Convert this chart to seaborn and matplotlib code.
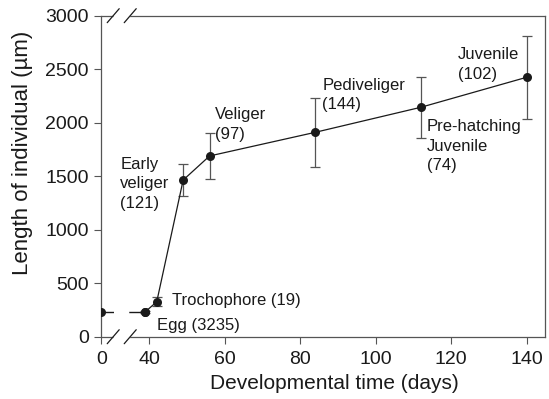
import numpy as np
import pandas as pd
import seaborn as sns
import matplotlib.pyplot as plt

# Body length per developmental stage (mean +/- SD)
days = [0, 39, 42, 49, 56, 84, 112, 140]
length_um = [234, 234, 327, 1464, 1689, 1910, 2144, 2424]
sd_um = [0, 10, 40, 153, 214, 321, 285, 386]
stage_labels = ["", "Egg (3235)", "Trochophore (19)", "Early\nveliger\n(121)",
                "Veliger\n(97)", "Pediveliger\n(144)",
                "Pre-hatching\nJuvenile\n(74)", "Juvenile\n(102)"]
xtick_days = [0, 40, 60, 80, 100, 120, 140]
ytick_vals = [0, 500, 1000, 1500, 2000, 2500, 3000]

# broken x axis: day 0 is drawn at this position
ZERO_POS = 27.3


def xpos(d):
    d = np.asarray(d, dtype=float)
    return np.where(d == 0, ZERO_POS, d)


df = pd.DataFrame({"day": days, "x": xpos(days), "length": length_um, "sd": sd_um})

sns.set_style("ticks")
plt.rcParams["font.family"] = ["Liberation Sans", "DejaVu Sans"]

fig = plt.figure(figsize=(5.49, 3.99), dpi=100)
ax = fig.add_axes([0.1845, 0.1561, 0.8082, 0.8046])

ink = "#1a1a1a"
grey = "#555555"

# dashed part across the break (day 0 -> egg)
sns.lineplot(data=df.iloc[:2], x="x", y="length", ax=ax, color=ink, lw=1,
             marker="o", markersize=6.5, markeredgewidth=0, sort=False)
ax.lines[-1].set_dashes((9, 11))
ax.lines[-1].set_zorder(3)

# solid part
sns.lineplot(data=df.iloc[1:], x="x", y="length", ax=ax, color=ink, lw=0.9,
             marker="o", markersize=6.5, markeredgewidth=0, sort=False, zorder=3)

err = df.iloc[1:]
ax.errorbar(err["x"], err["length"], yerr=err["sd"], fmt="none",
            ecolor=grey, elinewidth=0.9, capsize=3.6, capthick=0.9, zorder=2)

# stage labels: offsets in pixels to the last line's baseline (dx, dy), alignment
label_style = [
    None,
    (12, -18.5, "left"),
    (15, -3.5, "left"),
    (-63, -28, "left"),
    (5, 17, "left"),
    (7, 23, "left"),
    (6, -63, "left"),
    (-7, -1.5, "right"),
]
for i, lab in enumerate(stage_labels):
    if not lab:
        continue
    dx, dy, ha = label_style[i]
    ax.annotate(lab, (df["x"][i], df["length"][i]), xytext=(dx, dy),
                textcoords="offset pixels", ha=ha, va="baseline",
                multialignment="left", fontsize=12, color=ink,
                linespacing=1.38)

ax.set_xlim(ZERO_POS, 144.9)
ax.set_ylim(0, 3000)
ax.set_xticks(xpos(xtick_days))
ax.set_xticklabels([str(d) for d in xtick_days])
ax.set_yticks(ytick_vals)
ax.tick_params(direction="out", length=5, width=0.8, color=grey,
               labelsize=14, labelcolor=ink)
ax.tick_params(axis="x", pad=5)
ax.tick_params(axis="y", pad=4)

ax.set_xlabel("Developmental time (days)", fontsize=15, color=ink)
ax.set_ylabel("Length of individual (\u00b5m)", fontsize=16, color=ink)
ax.xaxis.set_label_coords(0.525, -0.117)
ax.yaxis.set_label_coords(-0.153, 0.574)

# spines with axis-break marks
brk1, brk2 = 30.46, 34.97
for side in ["left", "right", "top", "bottom"]:
    ax.spines[side].set_visible(True)
    ax.spines[side].set_color(grey)
    ax.spines[side].set_linewidth(0.9)
ax.spines["top"].set_bounds(brk2, 144.9)
ax.spines["bottom"].set_bounds(brk2, 144.9)

trans = ax.get_xaxis_transform()
hx = 6 / 3.773   # half width of a slash in data units
hy = 7 / 321     # half height of a slash in axes units
for yy in [0, 1]:
    ax.plot([ZERO_POS, brk1], [yy, yy], color=grey, lw=0.9,
            transform=trans, clip_on=False, solid_capstyle="butt")
    for bx in [brk1, brk2]:
        ax.plot([bx - hx, bx + hx], [yy - hy, yy + hy], color=ink, lw=0.9,
                transform=trans, clip_on=False)

fig.savefig("out.png", dpi=100)
